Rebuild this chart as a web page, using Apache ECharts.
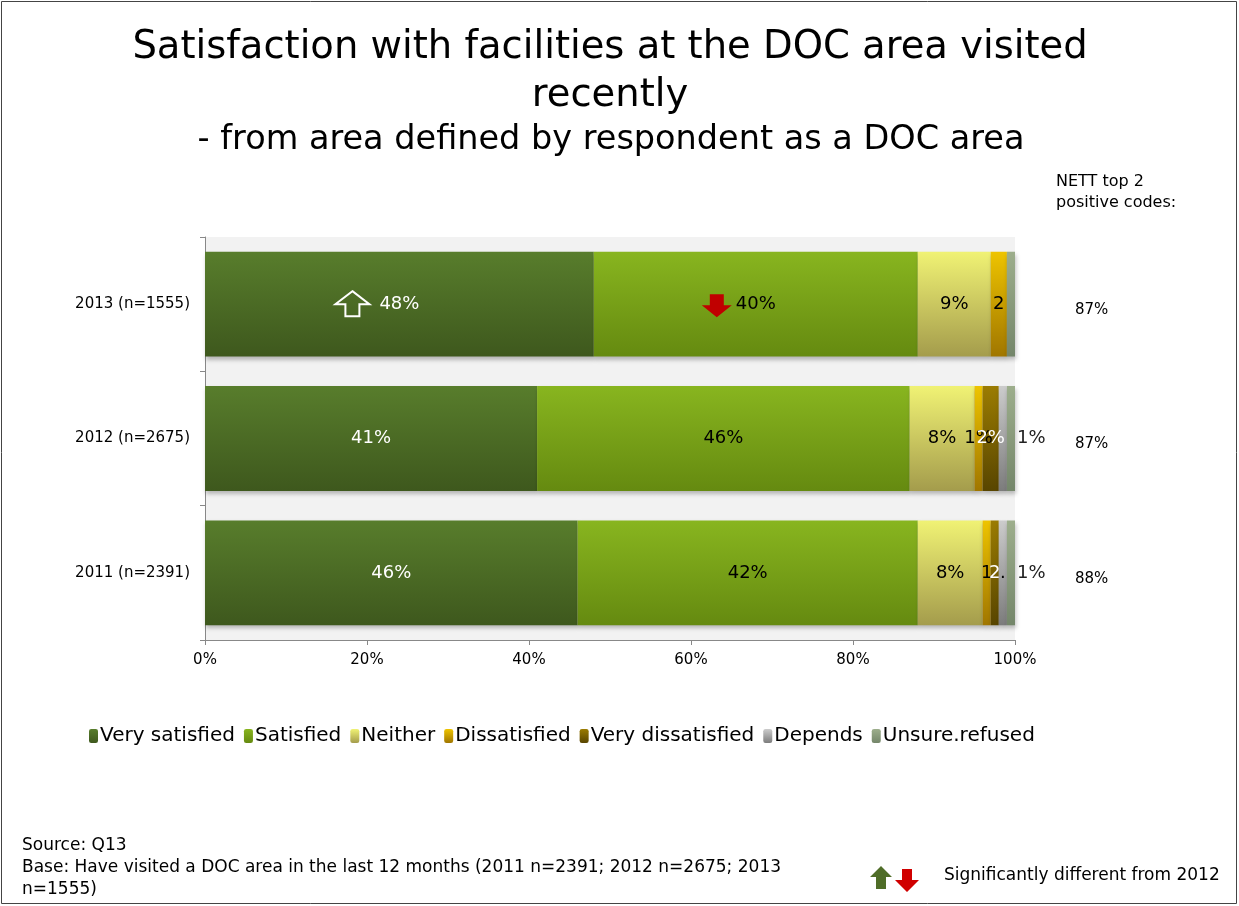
<!DOCTYPE html>
<html>
<head>
<meta charset="utf-8">
<script src="https://cdn.jsdelivr.net/npm/echarts@6/dist/echarts.min.js"></script>
<style>
html,body{margin:0;padding:0;background:#fff;}
#chart{width:1239px;height:906px;}
</style>
</head>
<body>
<div id="chart"></div>
<script>
// ---- data ----
const categories = ['2013 (n=1555)', '2012 (n=2675)', '2011 (n=2391)'];
const seriesNames = ['Very satisfied', 'Satisfied', 'Neither', 'Dissatisfied', 'Very dissatisfied', 'Depends', 'Unsure.refused'];
const verySatisfied = [48, 41, 46];
const satisfied = [40, 46, 42];
const neither = [9, 8, 8];
const dissatisfied = [2, 1, 1];
const veryDissatisfied = [0, 2, 1];
const depends = [0, 1, 1];
const unsureRefused = [1, 1, 1];
// data labels as shown in the picture (some truncated in the original)
const labelsVerySatisfied = ['48%', '41%', '46%'];
const labelsSatisfied = ['40%', '46%', '42%'];
const labelsNeither = ['9%', '8%', '8%'];
const labelsDissatisfied = ['2', '1%', '1'];
const labelsVeryDissatisfied = ['', '2%', '2'];
const labelsDepends = ['', '', '.'];
const labelsUnsure = ['', '1%', '1%'];
const nettTop2 = ['87%', '87%', '88%'];
const xTicks = [0, 20, 40, 60, 80, 100];

const FONT = 'DejaVu Sans';
function grad(top, bottom) {
  return new echarts.graphic.LinearGradient(0, 0, 0, 1, [
    { offset: 0, color: top }, { offset: 1, color: bottom }
  ]);
}
const colors = [
  grad('#587d2c', '#3e581d'),
  grad('#88b51f', '#658a10'),
  grad('#f0f274', '#a49c4c'),
  grad('#eec400', '#a07600'),
  grad('#9b7c02', '#584500'),
  grad('#cccccc', '#7c7c7c'),
  grad('#9dae8c', '#74866a')
];
const values = [verySatisfied, satisfied, neither, dissatisfied, veryDissatisfied, depends, unsureRefused];
const labels = [labelsVerySatisfied, labelsSatisfied, labelsNeither, labelsDissatisfied, labelsVeryDissatisfied, labelsDepends, labelsUnsure];
const labelColors = ['#ffffff', '#000000', '#000000', '#000000', '#ffffff', '#000000', '#222222'];

const chart = echarts.init(document.getElementById('chart'));

const series = seriesNames.map((name, si) => ({
  name: name,
  type: 'bar',
  stack: 'total',
  barCategoryGap: '22%',
  itemStyle: {
    color: colors[si],
    shadowBlur: 4, shadowOffsetY: 3, shadowOffsetX: 1, shadowColor: 'rgba(0,0,0,0.25)'
  },
  label: {
    show: true,
    position: si === 6 ? 'right' : 'inside',
    distance: 2,
    fontFamily: FONT, fontSize: 18,
    color: labelColors[si],
    formatter: p => labels[si][p.dataIndex]
  },
  labelLayout: { hideOverlap: false },
  data: values[si]
}));

const option = {
  animation: false,
  backgroundColor: '#ffffff',
  legend: {
    bottom: 155, left: 84,
    itemWidth: 9, itemHeight: 14, itemGap: 9,
    textStyle: { fontFamily: FONT, fontSize: 20, color: '#000', padding: [0, 0, 0, -3] },
    data: seriesNames
  },
  grid: {
    left: 205, right: 224, top: 237, bottom: 266,
    show: true, backgroundColor: '#f2f2f2', borderWidth: 0
  },
  xAxis: {
    type: 'value', min: 0, max: 100, interval: 20,
    axisLine: { show: true, lineStyle: { color: '#888' } },
    axisTick: { show: true, length: 5, lineStyle: { color: '#888' } },
    splitLine: { show: false },
    axisLabel: { formatter: '{value}%', fontFamily: FONT, fontSize: 15, color: '#000', margin: 13,
      customValues: xTicks }
  },
  yAxis: [
    {
      type: 'category', data: categories, inverse: true,
      axisLine: { show: true, lineStyle: { color: '#888' } },
      axisTick: { show: true, length: 5, lineStyle: { color: '#888' } },
      axisLabel: { fontFamily: FONT, fontSize: 15, color: '#000', margin: 15 }
    },
    {
      type: 'category', data: nettTop2, inverse: true, position: 'right',
      axisLine: { show: false }, axisTick: { show: false },
      axisLabel: { fontFamily: FONT, fontSize: 15, color: '#000', margin: 60, align: 'left', verticalAlign: 'top', lineHeight: 12 }
    }
  ],
  series: series
};
chart.setOption(option);

// annotations positioned via the chart's scales
const g = [];
function upArrow(cx, cy) {
  const y0 = cy - 13;
  return { type: 'polygon', shape: { points: [
    [cx, y0], [cx + 17, y0 + 13], [cx + 7, y0 + 13], [cx + 7, y0 + 25], [cx - 7, y0 + 25], [cx - 7, y0 + 13], [cx - 17, y0 + 13]
  ] }, style: { fill: 'transparent', stroke: '#fff', lineWidth: 2 }, z: 100 };
}
function downArrow(cx, cy, color) {
  const y0 = cy - 11;
  return { type: 'polygon', shape: { points: [
    [cx - 7, y0], [cx + 7, y0], [cx + 7, y0 + 11], [cx + 15, y0 + 11], [cx, y0 + 23], [cx - 15, y0 + 11], [cx - 7, y0 + 11]
  ] }, style: { fill: color }, z: 100 };
}
const yc = chart.convertToPixel({ yAxisIndex: 0 }, categories[0]);
const vsCenter = chart.convertToPixel({ xAxisIndex: 0 }, verySatisfied[0] / 2);
const satCenter = chart.convertToPixel({ xAxisIndex: 0 }, verySatisfied[0] + satisfied[0] / 2);
g.push(upArrow(vsCenter - 47, yc));
g.push(downArrow(satCenter - 39, yc + 1, '#c00000'));

// titles
g.push({ type: 'text', x: 610, y: 24, style: { text: 'Satisfaction with facilities at the DOC area visited\nrecently', align: 'center', fontFamily: FONT, fontSize: 38.5, lineHeight: 48, fill: '#000' } });
g.push({ type: 'text', x: 611, y: 123, style: { text: '- from area defined by respondent as a DOC area', align: 'center', fontFamily: FONT, fontSize: 33.5, fill: '#000' } });

// right-hand header text
g.push({ type: 'text', left: 1056, top: 171, style: { text: 'NETT top 2\npositive codes:', fontFamily: FONT, fontSize: 16, lineHeight: 21, fill: '#000' } });

// footer
g.push({ type: 'text', left: 22, top: 835, style: { text: 'Source: Q13\nBase: Have visited a DOC area in the last 12 months (2011 n=2391; 2012 n=2675; 2013\nn=1555)', fontFamily: FONT, fontSize: 17, lineHeight: 22, fill: '#000' } });
// significance legend arrows
g.push({ type: 'polygon', shape: { points: [[881, 866], [892, 877], [886, 877], [886, 889], [876, 889], [876, 877], [870, 877]] }, style: { fill: '#4f6d28' } });
g.push({ type: 'polygon', shape: { points: [[902, 869], [912, 869], [912, 880], [919, 880], [907, 892], [895, 880], [902, 880]] }, style: { fill: '#d00000' } });
g.push({ type: 'text', left: 944, top: 867, style: { text: 'Significantly different from 2012', fontFamily: FONT, fontSize: 17, fill: '#000' } });
// slide border
g.push({ type: 'rect', shape: { x: 1.5, y: 1.5, width: 1235, height: 902 }, style: { fill: 'transparent', stroke: '#444', lineWidth: 1 }, silent: true });

chart.setOption({ graphic: g });
</script>
</body>
</html>
